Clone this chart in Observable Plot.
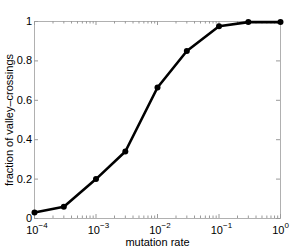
<!DOCTYPE html>
<html>
<head>
<meta charset="utf-8">
<script src="https://cdn.jsdelivr.net/npm/d3@7"></script>
<script src="https://cdn.jsdelivr.net/npm/@observablehq/plot@0.6"></script>
<style>
  html, body { margin: 0; padding: 0; background: #fff; }
  svg { display: block; }
</style>
</head>
<body>
<div id="chart"></div>
<script>
const rates = [1e-4, 3e-4, 1e-3, 3e-3, 1e-2, 3e-2, 1e-1, 3e-1, 1];
const fractions = [0.03, 0.06, 0.2, 0.34, 0.665, 0.85, 0.976, 0.997, 0.997];
const xMajor = [1e-4, 1e-3, 1e-2, 1e-1, 1];
const xExponents = ["\u22124", "\u22123", "\u22122", "\u22121", "0"];
const yTicks = [0, 0.2, 0.4, 0.6, 0.8, 1];
const yTickLabels = ["0", "0.2", "0.4", "0.6", "0.8", "1"];
const xLabel = "mutation rate";
const yLabel = "fraction of valley\u2013crossings";

const xMinor = [];
for (const d of [1e-4, 1e-3, 1e-2, 1e-1]) for (let k = 2; k <= 9; k++) xMinor.push(d * k);

const data = rates.map((r, i) => ({rate: r, fraction: fractions[i]}));

const W = 290, H = 248, mt = 21, mb = 30, ml = 34, mr = 10;
const ih = H - mt - mb, iw = W - ml - mr;
const tickColor = "#9a9a9a";

const chart = Plot.plot({
  width: W, height: H,
  marginTop: mt, marginBottom: mb, marginLeft: ml, marginRight: mr,
  x: {type: "log", domain: [1e-4, 1], axis: null},
  y: {domain: [0, 1], axis: null},
  style: {fontFamily: "'Liberation Sans', Arial, Helvetica, sans-serif", fontSize: "11px", background: "white", color: "black"},
  marks: [
    Plot.frame({stroke: "#b0b0b0"}),
    Plot.tickX(xMajor, {x: d => d, stroke: tickColor, insetTop: ih - 4}),
    Plot.tickX(xMajor, {x: d => d, stroke: tickColor, insetBottom: ih - 4}),
    Plot.tickX(xMinor, {x: d => d, stroke: tickColor, insetTop: ih - 2.5}),
    Plot.tickX(xMinor, {x: d => d, stroke: tickColor, insetBottom: ih - 2.5}),
    Plot.tickY(yTicks, {y: d => d, stroke: tickColor, insetRight: iw - 4}),
    Plot.tickY(yTicks, {y: d => d, stroke: tickColor, insetLeft: iw - 4}),
    Plot.line(data, {x: "rate", y: "fraction", stroke: "black", strokeWidth: 2.6}),
    Plot.dot(data, {x: "rate", y: "fraction", r: 3, fill: "black", stroke: "none"}),
    Plot.text(yTicks, {y: d => d, frameAnchor: "left", text: (d, i) => yTickLabels[i], textAnchor: "end", dx: -2.5, fontSize: 11}),
    Plot.text(xMajor, {x: d => d, frameAnchor: "bottom", text: () => "10", textAnchor: "end", dx: 4, dy: 15, lineAnchor: "bottom", fontSize: 11}),
    Plot.text(xMajor, {x: d => d, frameAnchor: "bottom", text: (d, i) => xExponents[i], textAnchor: "start", dx: 4, dy: 9, lineAnchor: "bottom", fontSize: 8}),
    Plot.text([xLabel], {frameAnchor: "bottom", text: d => d, dy: 24, lineAnchor: "middle", textAnchor: "middle", fontSize: 11}),
    Plot.text([yLabel], {frameAnchor: "left", text: d => d, rotate: -90, dx: -25, lineAnchor: "middle", textAnchor: "middle", fontSize: 11})
  ]
});
document.getElementById("chart").appendChild(chart);
</script>
</body>
</html>
